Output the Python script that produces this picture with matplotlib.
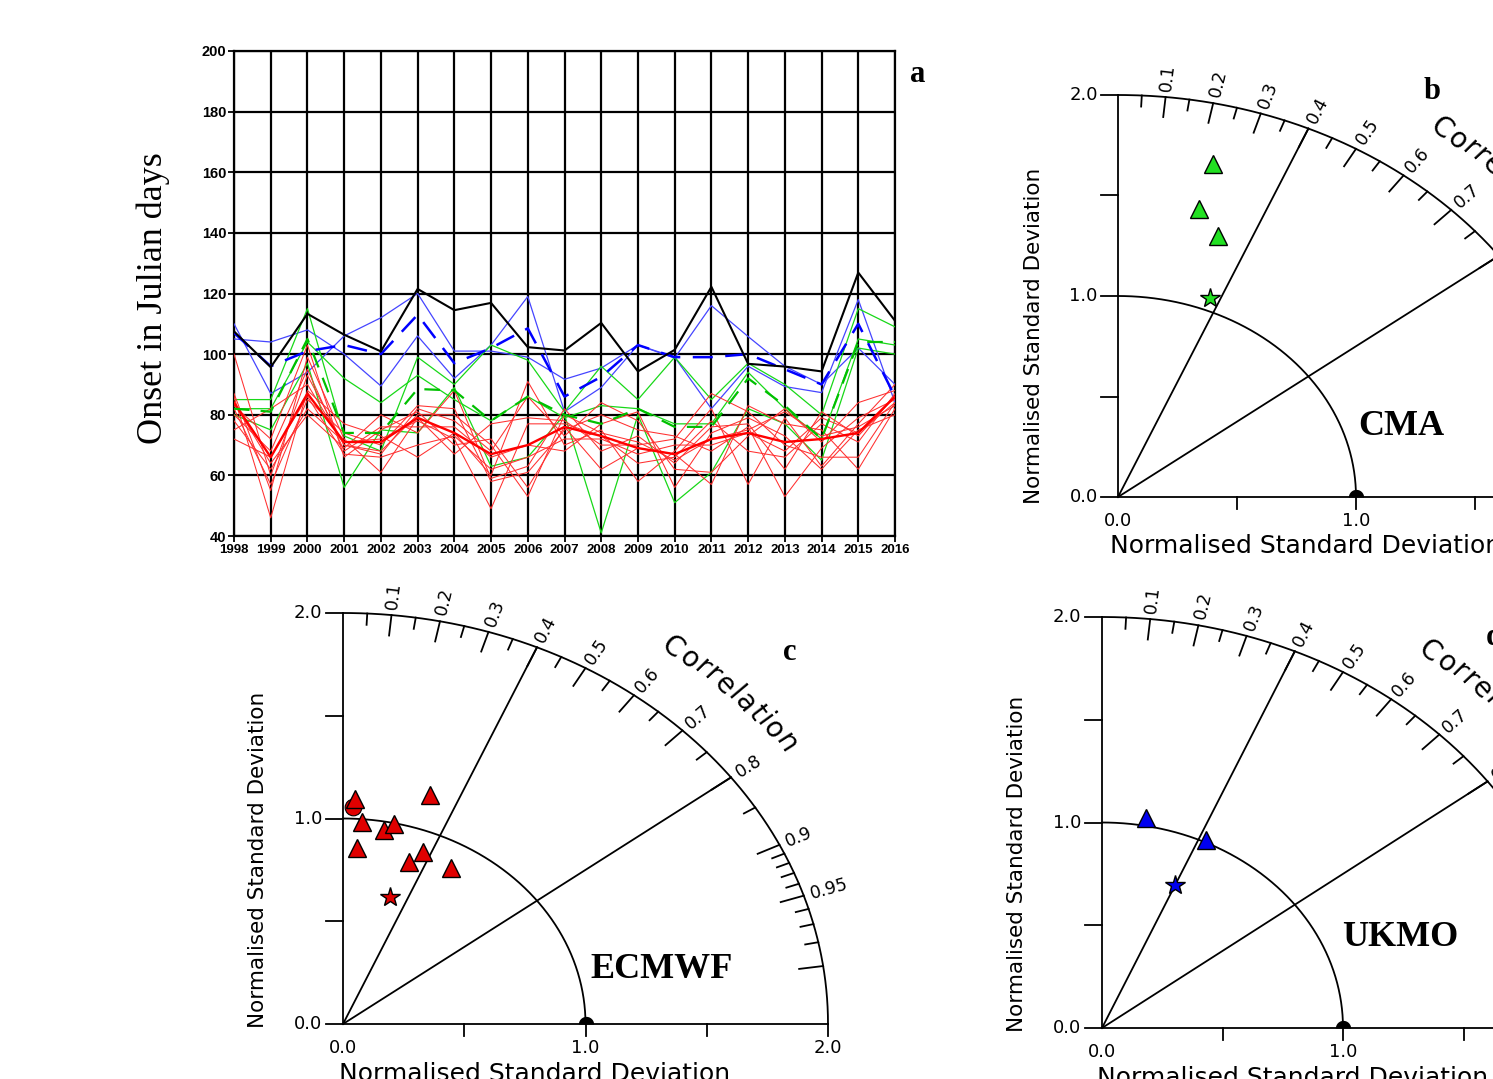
import numpy as np
import matplotlib
matplotlib.use("Agg")
import matplotlib.pyplot as plt
from matplotlib.path import Path

W, H = 1493, 1079

# ---------------- Panel a data ----------------
years = [1998, 1999, 2000, 2001, 2002, 2003, 2004, 2005, 2006, 2007,
         2008, 2009, 2010, 2011, 2012, 2013, 2014, 2015, 2016]
obs = [107.5, 95.7, 113.3, 106.4, 100.9, 121.5, 114.5, 116.9, 102.3, 101.2,
       110.3, 94.3, 101.4, 122.2, 96.8, 95.9, 94.3, 126.9, 111.0]

ukmo1 = [105, 104, 108, 100, 89.5, 106, 92, 103, 119, 81, 89, 103, 99, 82, 96, 89.3, 87.3, 118, 84]
ukmo2 = [110, 87, 94, 106, 112, 120, 101, 101, 99, 91.7, 95.4, 103, 98.7, 116, 105.8, 96, 90, 102, 90]
ukmo_mean = [107, 96, 101, 103, 100, 113, 97, 102, 108.5, 86, 92.5, 103, 99, 99, 100, 95, 90, 110, 86]

cma1 = [85, 85, 115, 73, 68, 99, 90, 103, 98, 81, 96, 85, 99, 85, 97, 90, 80, 115, 109]
cma2 = [82, 82, 104, 92, 84, 93, 85, 78, 86, 79, 83, 82, 77, 77, 94, 82, 72, 105, 103]
cma3 = [80, 75, 97, 56, 75, 74, 89, 63, 66, 80, 41, 80, 51, 61, 82, 77, 65, 102, 100]
cma_mean = [82, 81, 105, 74, 74, 88.5, 88, 78, 86, 80, 77, 82, 76, 76, 92, 83, 72, 104, 104]

ecmwf_members = [
    [100, 60, 93, 70, 67, 82, 78, 68, 86, 73, 84, 78, 62, 61, 73, 82, 71, 84, 88],
    [87, 55, 99, 72, 61, 79, 67, 77, 79, 78, 70, 70, 72, 87, 81, 70, 66, 66, 84],
    [86, 46, 88, 77, 73, 66, 74, 60, 91, 70, 75, 58, 68, 82, 57, 79, 63, 77, 90],
    [84, 64, 80, 69, 80, 74, 88, 59, 63, 82, 68, 73, 64, 76, 77, 62, 81, 73, 86],
    [83, 72, 103, 66, 75, 81, 70, 72, 56, 76, 62, 69, 67, 57, 83, 77, 75, 62, 82],
    [82, 57, 85, 74, 70, 83, 82, 58, 61, 75, 80, 75, 73, 68, 76, 53, 69, 79, 85],
    [80, 68, 95, 68, 76, 76, 76, 66, 70, 68, 77, 81, 56, 74, 79, 73, 62, 75, 80],
    [78, 62, 82, 71, 72, 78, 72, 49, 77, 77, 73, 64, 66, 78, 68, 66, 77, 71, 87],
    [75, 82, 90, 70, 68, 80, 80, 70, 53, 80, 74, 71, 65, 72, 75, 81, 73, 76, 83],
    [72, 66, 86, 67, 66, 70, 73, 62, 66, 72, 72, 67, 70, 70, 74, 68, 79, 74, 84],
]
ecmwf_mean = [84, 66, 87, 71, 71, 79, 74, 67, 70, 76, 73, 69, 67, 72, 74, 71, 72, 74, 86]

y_ticks_a = [40, 60, 80, 100, 120, 140, 160, 180, 200]

# ---------------- Taylor data ----------------
cma_std = [1.702, 1.471, 1.365]
cma_corr = [0.234, 0.231, 0.308]
cma_star = (1.064, 0.362)

ecmwf_std = [1.094, 0.985, 0.961, 0.993, 1.169, 0.859, 0.833, 0.899, 0.880]
ecmwf_corr = [0.045, 0.078, 0.175, 0.210, 0.307, 0.066, 0.327, 0.367, 0.508]
ecmwf_circle = (1.056, 0.039)
ecmwf_star = (0.647, 0.297)

ukmo_std = [1.038, 1.013]
ukmo_corr = [0.176, 0.425]
ukmo_star = (0.761, 0.399)

corr_major = [0.1, 0.2, 0.3, 0.4, 0.5, 0.6, 0.7, 0.8, 0.9, 0.95, 0.99]
corr_minor = [0.05, 0.15, 0.25, 0.35, 0.45, 0.55, 0.65, 0.75, 0.85,
              0.91, 0.92, 0.93, 0.94, 0.96, 0.97, 0.98]
corr_labels = ["0.1", "0.2", "0.3", "0.4", "0.5", "0.6", "0.7", "0.8", "0.9", "0.95"]
std_ticks = [0.0, 0.5, 1.0, 1.5, 2.0]
std_labels = {0.0: "0.0", 1.0: "1.0", 2.0: "2.0"}
radial_lines = [0.4, 0.8]

fig = plt.figure(figsize=(W / 100, H / 100), dpi=100)


def ax_px(x0, y0, x1, y1, xlim, ylim):
    """x0,y0: pixel of (xlim[0], ylim[0]); x1,y1: pixel of (xlim[1], ylim[1])"""
    a = fig.add_axes([x0 / W, 1 - y0 / H, (x1 - x0) / W, (y0 - y1) / H])
    a.set_xlim(*xlim)
    a.set_ylim(*ylim)
    return a


# ---------------- Panel a ----------------
ax = ax_px(234, 536, 895, 51, (1998, 2016), (40, 200))
for yv in y_ticks_a:
    ax.axhline(yv, color="k", lw=1.6, zorder=1)
for xv in years:
    ax.axvline(xv, color="k", lw=1.6, zorder=1)

for m in (ukmo1, ukmo2):
    ax.plot(years, m, color="#4545ff", lw=0.9, zorder=3)
for m in (cma1, cma2, cma3):
    ax.plot(years, m, color="#18d818", lw=0.9, zorder=3)
for m in ecmwf_members:
    ax.plot(years, m, color="#ff3030", lw=0.75, zorder=3)
ax.plot(years, ecmwf_mean, color="#ff0000", lw=1.7, zorder=4)
ax.plot(years, cma_mean, color="#00c000", lw=1.6, dashes=(7, 5), zorder=4)
ax.plot(years, ukmo_mean, color="#0000ff", lw=1.8, dashes=(8, 5), zorder=5)
ax.plot(years, obs, color="k", lw=1.5, zorder=6)

ax.set_xticks(years)
ax.set_xticklabels([str(y) for y in years])
ax.set_yticks(y_ticks_a)
ax.set_yticklabels([str(v) for v in y_ticks_a])
for lab in ax.get_xticklabels():
    lab.set_fontfamily("Liberation Sans")
    lab.set_fontweight("bold")
    lab.set_fontsize(9.5)
for lab in ax.get_yticklabels():
    lab.set_fontfamily("Liberation Sans")
    lab.set_fontweight("bold")
    lab.set_fontsize(10.5)
ax.tick_params(direction="out", length=4, width=1.3, pad=1.5)
for s in ax.spines.values():
    s.set_linewidth(1.6)

fig.text(153 / W, 1 - 298 / H, "Onset in Julian days", rotation=90,
         ha="center", va="center", family="Liberation Serif", fontsize=26)
fig.text(918 / W, 1 - 75 / H, "a", ha="center", va="center",
         family="Liberation Serif", fontweight="bold", fontsize=22)


# ---------------- Taylor diagrams ----------------
def disp_angle(a, theta):
    p0 = a.transData.transform((0, 0))
    p1 = a.transData.transform((np.cos(theta), np.sin(theta)))
    return np.degrees(np.arctan2(p1[1] - p0[1], p1[0] - p0[0]))


def taylor(ox, oy, sx, sy, std, corr, color, star, name, name_xy,
           letter, letter_xy, letter_ha="center", circle=None):
    a = ax_px(ox, oy, ox + 2 * sx, oy - 2 * sy, (0, 2), (0, 2))
    a.axis("off")
    kw = dict(color="k", lw=1.3, clip_on=False)
    # axes
    a.plot([0, 0], [0, 2], **kw)
    a.plot([0, 2], [0, 0], **kw)
    th = np.linspace(0, np.pi / 2, 300)
    a.plot(2 * np.cos(th), 2 * np.sin(th), **kw)
    a.plot(np.cos(th), np.sin(th), **kw)
    for c in radial_lines:
        t = np.arccos(c)
        a.plot([0, 2 * np.cos(t)], [0, 2 * np.sin(t)], **kw)
    # std ticks
    for v in std_ticks:
        a.plot([-0.07, 0], [v, v], **kw)
        if v > 0:
            a.plot([v, v], [0, -0.06], **kw)
        if v in std_labels:
            a.text(-0.085, v, std_labels[v], ha="right", va="center",
                   fontsize=13, family="DejaVu Sans", clip_on=False)
            a.text(v, -0.118, std_labels[v], ha="center", va="center",
                   fontsize=13, family="DejaVu Sans", clip_on=False)
    # correlation ticks
    for c in corr_major:
        t = np.arccos(c)
        a.plot([1.9 * np.cos(t), 2 * np.cos(t)], [1.9 * np.sin(t), 2 * np.sin(t)], **kw)
    for c in corr_minor:
        t = np.arccos(c)
        a.plot([1.945 * np.cos(t), 2 * np.cos(t)], [1.945 * np.sin(t), 2 * np.sin(t)], **kw)
    for c, lab in zip(corr_major, corr_labels):
        t = np.arccos(c)
        a.text(2.03 * np.cos(t), 2.03 * np.sin(t), lab, rotation=disp_angle(a, t),
               rotation_mode="anchor", ha="left", va="center", fontsize=12.5,
               family="DejaVu Sans", clip_on=False)
    # "Correlation" along arc
    word = "Correlation"
    widths = [0.70, 0.61, 0.41, 0.41, 0.62, 0.28, 0.61, 0.39, 0.28, 0.61, 0.63]
    cum = np.cumsum(widths) - np.array(widths) / 2
    cum = (cum - cum[0]) / (cum[-1] - cum[0])
    a0, a1 = np.radians(53.5), np.radians(36.8)
    for ch, f in zip(word, cum):
        t = a0 + (a1 - a0) * f
        a.text(2.28 * np.cos(t), 2.28 * np.sin(t), ch, rotation=disp_angle(a, t) - 90,
               rotation_mode="anchor", ha="center", va="center", fontsize=20,
               family="DejaVu Sans", clip_on=False)
    # axis titles
    a.text(-0.352, 0.80, "Normalised Standard Deviation", rotation=90, ha="center",
           va="center", fontsize=15.5, family="DejaVu Sans", clip_on=False)
    a.text(0.79, -0.245, "Normalised Standard Deviation", ha="center",
           va="center", fontsize=18, family="DejaVu Sans", clip_on=False)
    # reference half-disc
    ang = np.linspace(0, np.pi, 30)
    half = Path(np.column_stack([np.cos(ang), np.sin(ang)]).tolist() + [[1, 0]])
    a.plot([1.0], [0.0], marker=half, ms=11, color="k", mew=0, clip_on=False, zorder=5)
    # model markers
    std = np.asarray(std)
    corr = np.asarray(corr)
    xs = std * corr
    ys = std * np.sqrt(1 - corr ** 2)
    if circle is not None:
        a.plot([circle[0] * circle[1]], [circle[0] * np.sqrt(1 - circle[1] ** 2)],
               "o", ms=12, mfc=color, mec="k", mew=0.8, clip_on=False, zorder=6)
    a.plot(xs, ys, "^", ms=13, mfc=color, mec="k", mew=1.0, ls="none",
           clip_on=False, zorder=7)
    a.plot([star[0] * star[1]], [star[0] * np.sqrt(1 - star[1] ** 2)], "*",
           ms=15, mfc=color, mec="k", mew=1.0, clip_on=False, zorder=8)
    a.text(name_xy[0], name_xy[1], name, ha="left", va="center",
           family="Liberation Serif", fontweight="bold", fontsize=26, clip_on=False)
    a.text(letter_xy[0], letter_xy[1], letter, ha=letter_ha, va="center",
           family="Liberation Serif", fontweight="bold", fontsize=22, clip_on=False)
    return a


taylor(1118, 497, 238, 201, cma_std, cma_corr, "#22e022", cma_star,
       "CMA", (1.008, 0.353), "b", (1.319, 2.015))
taylor(343, 1024, 242.5, 205.5, ecmwf_std, ecmwf_corr, "#e00000", ecmwf_star,
       "ECMWF", (1.019, 0.263), "c", (1.843, 1.81), circle=ecmwf_circle)
taylor(1102, 1028, 241, 205.5, ukmo_std, ukmo_corr, "#0000ee", ukmo_star,
       "UKMO", (0.996, 0.438), "d", (1.593, 1.898), letter_ha="left")

fig.savefig("out.png", dpi=100)
